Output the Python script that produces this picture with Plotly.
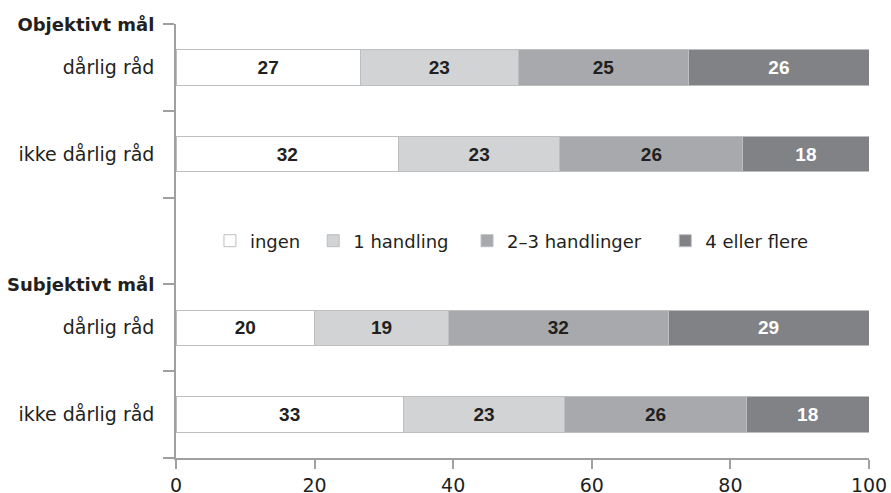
import plotly.graph_objects as go

# Data (percent), rows top to bottom; y positions in slot units
row_labels = ["dårlig råd", "ikke dårlig råd", "dårlig råd", "ikke dårlig råd"]
row_pos = [0.5, 1.5, 3.5, 4.5]
group_labels = ["Objektivt mål", "Subjektivt mål"]
group_pos = [0, 3]

series_names = ["ingen", "1 handling", "2–3 handlinger", "4 eller flere"]
ingen = [26.6, 32.1, 20.0, 32.8]
en_handling = [22.8, 23.3, 19.3, 23.3]
to_tre = [24.6, 26.4, 31.7, 26.2]
fire_pluss = [26.0, 18.2, 29.0, 17.7]

colors = ["#ffffff", "#d1d3d4", "#a7a9ac", "#808285"]
text_colors = ["#231f20", "#231f20", "#231f20", "#ffffff"]
legend_x = [0.049, 0.198, 0.420, 0.706]

FONT = "DejaVu Sans, Verdana, sans-serif"
NUMFONT = "Liberation Sans, Arial, sans-serif"
INK = "#231f20"
AXIS = "#a0a0a0"

fig = go.Figure()
for i, (name, vals, c, tc) in enumerate(zip(series_names, [ingen, en_handling, to_tre, fire_pluss], colors, text_colors)):
    fig.add_trace(go.Bar(
        y=row_pos, x=vals, name=name, orientation="h", width=0.41,
        marker=dict(color=c, line=dict(color="#bcbec0", width=1)),
        texttemplate="<b>%{x:.0f}</b>", textposition="inside",
        insidetextanchor="middle", textangle=0,
        textfont=dict(color=tc, size=19, family=NUMFONT),
        hoverinfo="skip",
        legend="legend" if i == 0 else f"legend{i+1}",
    ))

bold = [f"<span style='font-size:18px'><b>{g}</b></span>" for g in group_labels]
tickvals = group_pos[:1] + row_pos[:2] + group_pos[1:] + row_pos[2:]
ticktext = bold[:1] + row_labels[:2] + bold[1:] + row_labels[2:]

legend_common = dict(orientation="h", xanchor="left", y=0.5, yanchor="middle",
                     font=dict(size=18, color=INK, family=FONT), bgcolor="rgba(0,0,0,0)",
                     itemclick=False, itemdoubleclick=False)
legends = {}
for i, lx in enumerate(legend_x):
    key = "legend" if i == 0 else f"legend{i+1}"
    legends[key] = dict(legend_common, x=lx)

fig.update_layout(
    barmode="stack",
    width=891, height=493,
    margin=dict(l=176, r=22, t=23.5, b=34.5),
    paper_bgcolor="white", plot_bgcolor="white",
    font=dict(family=FONT, color=INK, size=19),
    showlegend=True,
    xaxis=dict(range=[0, 100], tickvals=[0, 20, 40, 60, 80, 100],
               showline=True, linecolor=AXIS, linewidth=1.5,
               ticks="outside", ticklen=9, tickcolor=AXIS, tickwidth=1.5,
               showgrid=False, zeroline=False, fixedrange=True, automargin=False,
               tickfont=dict(size=19, color=INK)),
    yaxis=dict(range=[5, 0], tickmode="array", tickvals=tickvals, ticktext=ticktext,
               ticks="", ticklabelstandoff=16,
               minor=dict(tickmode="array", tickvals=[0, 1, 2, 3, 4, 5], ticks="outside",
                          ticklen=11, tickcolor=AXIS, tickwidth=1.5, showgrid=False),
               showline=True, linecolor=AXIS, linewidth=1.5,
               showgrid=False, zeroline=False, fixedrange=True, automargin=False,
               tickfont=dict(size=19, color=INK)),
    **legends,
)

# remove the default 8px page margin so the figure fills the window exactly
fig.write_html("out.html", config={"displayModeBar": False},
               post_script="document.body.style.margin='0px';document.body.style.overflow='hidden';")
